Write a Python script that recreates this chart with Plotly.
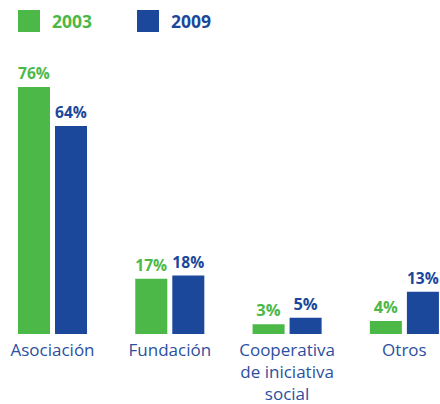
import plotly.graph_objects as go

categories = ["Asociación", "Fundación", "Cooperativa<br>de iniciativa<br>social", "Otros"]
series_names = ["2003", "2009"]
values_2003 = [76, 17, 3, 4]
values_2009 = [64, 18, 5, 13]

GREEN = "#4cb848"
BLUE = "#1b489b"
TICK_BLUE = "#2b4f9e"
FONT = "Open Sans"

bw = 0.273
gap = 0.0213

fig = go.Figure()
for name, vals, col, off in [
    (series_names[0], values_2003, GREEN, -(bw + gap)),
    (series_names[1], values_2009, BLUE, gap),
]:
    fig.add_trace(go.Bar(
        x=categories, y=vals, name=name,
        marker=dict(color=col, line=dict(width=0)),
        width=bw, offset=off,
        text=[f"{v}%" for v in vals],
        textposition="outside",
        textfont=dict(family=FONT, size=16.5, color=col, weight="bold"),
        cliponaxis=False,
        showlegend=False,
        hoverinfo="skip",
    ))

fig.update_layout(
    width=440, height=404,
    margin=dict(l=0, r=0, t=40, b=70),
    paper_bgcolor="white", plot_bgcolor="white",
    barmode="group",
    xaxis=dict(
        type="category", range=[-0.4476, 3.3035],
        showgrid=False, showline=False, zeroline=False,
        ticks="", ticklabelstandoff=4, automargin=False,
        tickfont=dict(family=FONT, size=17, color=TICK_BLUE),
    ),
    yaxis=dict(range=[0, 90.5], visible=False, automargin=False),
)

legend_items = [(series_names[0], GREEN, 18), (series_names[1], BLUE, 137)]
plot_h = 404 - 40 - 70
for name, col, x0 in legend_items:
    y_top = 10
    y_bot = 32
    fig.add_shape(type="rect", xref="paper", yref="paper",
                  x0=x0 / 440, x1=(x0 + 22) / 440,
                  y0=(404 - 70 - y_bot) / plot_h, y1=(404 - 70 - y_top) / plot_h,
                  fillcolor=col, line=dict(width=0))
    fig.add_annotation(xref="paper", yref="paper",
                       x=(x0 + 32) / 440, y=(404 - 70 - 21) / plot_h,
                       xanchor="left", yanchor="middle", showarrow=False,
                       text=f"<b>{name}</b>",
                       font=dict(family=FONT, size=17.5, color=col))

fig.write_html("out.html", config={"displayModeBar": False},
               post_script="document.body.style.margin='0';document.body.style.overflow='hidden';")
